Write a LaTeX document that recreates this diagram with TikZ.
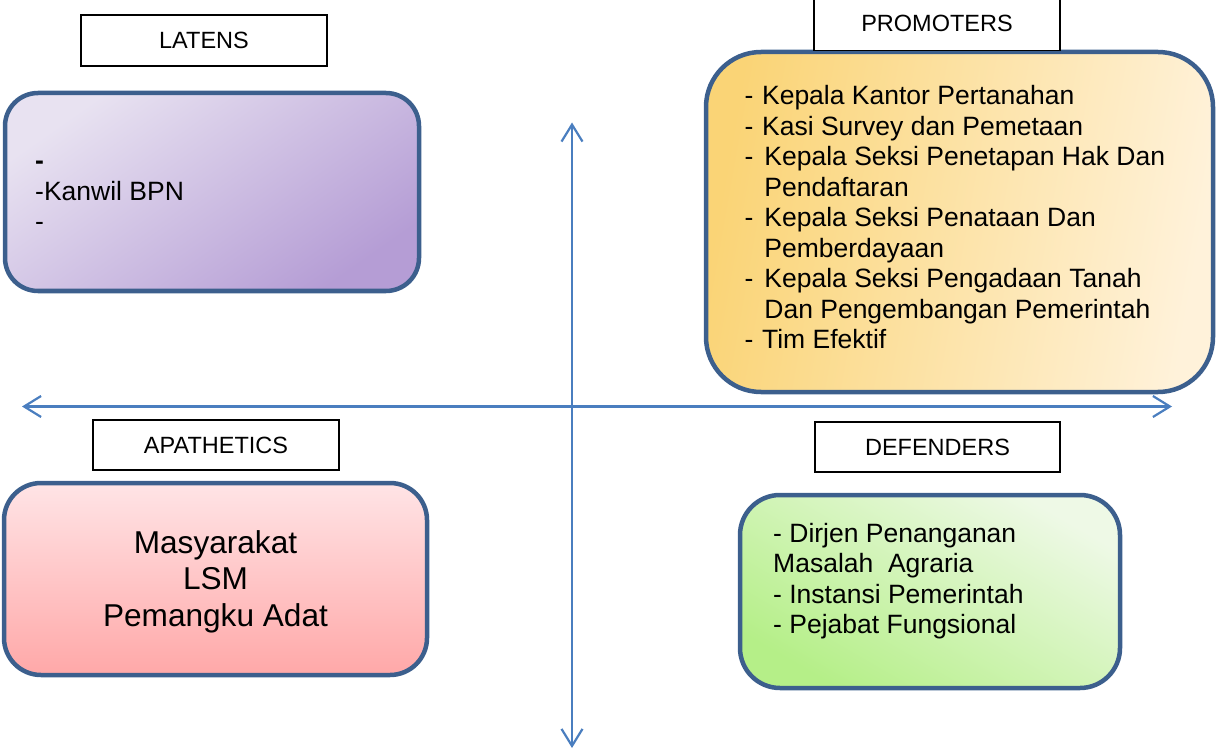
\documentclass[tikz,border=0pt]{standalone}
\usepackage{fontspec}
\setmainfont{Liberation Sans}
\usetikzlibrary{arrows.meta}

\definecolor{frameblue}{HTML}{3C5F8D}
\definecolor{axisblue}{HTML}{4A7EBF}
\definecolor{lavlight}{HTML}{E8E2F1}
\definecolor{lavdark}{HTML}{B59DD5}
\definecolor{goldleft}{HTML}{FAD476}
\definecolor{goldright}{HTML}{FFF2DA}
\definecolor{pinktop}{HTML}{FFE4E6}
\definecolor{pinkbottom}{HTML}{FFA8A8}
\definecolor{greenlow}{HTML}{B5EF88}
\definecolor{greenhigh}{HTML}{EEF9E6}

\newcommand\shortdash{\makebox[17.4pt][l]{-}}
\newcommand\longdash{\makebox[19.7pt][l]{-}}

\begin{document}
\begin{tikzpicture}[x=1pt,y=-1pt,
  axisline/.style={draw=axisblue,line width=2.4pt,
    {Straight Barb[length=17pt,width=21pt,line width=2.2pt]}-{Straight Barb[length=17pt,width=21pt,line width=2.2pt]}},
  quadbox/.style={draw=frameblue,line width=4.5pt,inner sep=0pt},
  labelbox/.style={draw=black,line width=1.7pt,inner sep=0pt,fill=white,
    font=\fontsize{23.5}{28}\selectfont},
  bodytext/.style={inner sep=0pt,font=\fontsize{26.5}{30.5}\selectfont},
  bigtext/.style={inner sep=0pt,font=\fontsize{31.6}{36.7}\selectfont}]

\useasboundingbox (0,0) rectangle (1216,754);

% axes
\coordinate (west) at (22,406.5);
\coordinate (east) at (1172,406.5);
\coordinate (north) at (572,122.5);
\coordinate (south) at (572,748);
\draw[axisline] (west) -- (east);
\draw[axisline] (north) -- (south);

% quadrant boxes
\node[quadbox,rounded corners=33pt,minimum width=414pt,minimum height=198pt,
  top color=lavlight,bottom color=lavdark,shading angle=35]
  (latens) at (212,192) {};
\node[quadbox,rounded corners=55pt,minimum width=507pt,minimum height=340pt,
  left color=goldleft,right color=goldright,shading angle=80]
  (promoters) at (959.5,222) {};
\node[quadbox,rounded corners=37pt,minimum width=423pt,minimum height=192pt,
  top color=pinktop,bottom color=pinkbottom]
  (apathetics) at (215.5,579) {};
\node[quadbox,rounded corners=40pt,minimum width=380pt,minimum height=193pt,
  top color=greenhigh,bottom color=greenlow,shading angle=-30]
  (defenders) at (930,591.5) {};

% quadrant labels
\node[labelbox,minimum width=246pt,minimum height=51pt] (latenslab) at (204,40.5) {LATENS};
\node[labelbox,minimum width=246pt,minimum height=54pt] (promoterslab) at (937,23.5) {PROMOTERS};
\node[labelbox,minimum width=246pt,minimum height=50pt] (apatheticslab) at (216,445) {APATHETICS};
\node[labelbox,minimum width=245pt,minimum height=50pt] (defenderslab) at (937.5,447) {DEFENDERS};

% box contents
\node[bodytext,anchor=base west] (latenstxt) at (35,170)
  {\parbox[t]{300pt}{\textbf{-}\\-Kanwil BPN\\-}};
\node[bodytext,anchor=base west] (promoterstxt) at (744.5,105)
  {\parbox[t]{460pt}{%
    \shortdash Kepala Kantor Pertanahan\\
    \shortdash Kasi Survey dan Pemetaan\\
    \longdash Kepala Seksi Penetapan Hak Dan\\
    \hspace*{19.7pt}Pendaftaran\\
    \longdash Kepala Seksi Penataan Dan\\
    \hspace*{19.7pt}Pemberdayaan\\
    \longdash Kepala Seksi Pengadaan Tanah\\
    \hspace*{19.7pt}Dan Pengembangan Pemerintah\\
    \shortdash Tim Efektif}};
\node[bigtext,anchor=base] (apatheticstxt) at (215.5,553)
  {\parbox[t]{400pt}{\centering Masyarakat\\LSM\\Pemangku Adat}};
\node[bodytext,anchor=base west] (defenderstxt) at (773,542)
  {\parbox[t]{340pt}{- Dirjen Penanganan\\Masalah\ \ Agraria\\- Instansi Pemerintah\\- Pejabat Fungsional}};

\end{tikzpicture}
\end{document}
